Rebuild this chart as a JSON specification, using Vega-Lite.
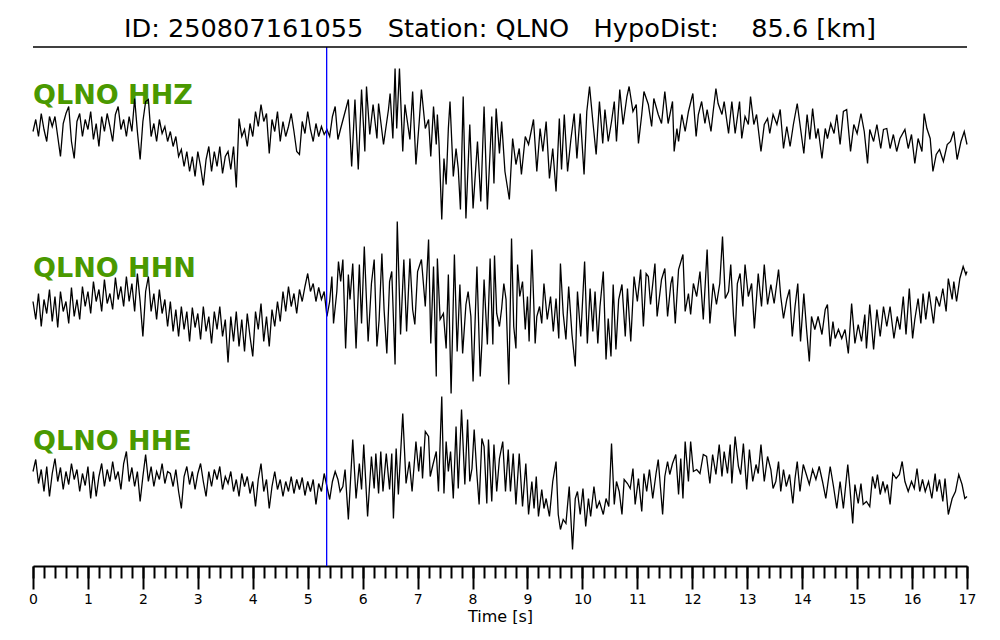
{
"$schema": "https://vega.github.io/schema/vega-lite/v6.json",
"padding": {"left": 28, "top": 16, "right": 0, "bottom": 0},
"background": "white",
"config": {"view": {"stroke": null}, "font": "DejaVu Sans"},
"title": {"text": "ID: 250807161055\u00a0\u00a0 Station: QLNO\u00a0\u00a0 HypoDist:\u00a0\u00a0\u00a0 85.6 [km]", "fontSize": 25.6, "font": "DejaVu Sans", "fontWeight": "normal", "color": "black", "anchor": "middle", "frame": "group", "baseline": "alphabetic", "offset": -16},
"spacing": 0,
"bounds": "flush",
"datasets": {
"z": [{"t":0,"v":2},{"t":0.05,"v":14},{"t":0.1,"v":-3},{"t":0.15,"v":20},{"t":0.2,"v":4},{"t":0.25,"v":-8},{"t":0.3,"v":17},{"t":0.35,"v":7},{"t":0.4,"v":17},{"t":0.45,"v":-3},{"t":0.5,"v":-23},{"t":0.55,"v":10},{"t":0.6,"v":20},{"t":0.65,"v":27},{"t":0.7,"v":-8},{"t":0.75,"v":-25},{"t":0.8,"v":12},{"t":0.85,"v":20},{"t":0.9,"v":-3},{"t":0.95,"v":14},{"t":1,"v":4},{"t":1.05,"v":22},{"t":1.1,"v":-6},{"t":1.15,"v":10},{"t":1.2,"v":-13},{"t":1.25,"v":17},{"t":1.3,"v":2},{"t":1.35,"v":20},{"t":1.4,"v":7},{"t":1.45,"v":-8},{"t":1.5,"v":19},{"t":1.55,"v":27},{"t":1.6,"v":4},{"t":1.65,"v":14},{"t":1.7,"v":-3},{"t":1.75,"v":17},{"t":1.8,"v":2},{"t":1.85,"v":35},{"t":1.9,"v":2},{"t":1.95,"v":-26},{"t":2,"v":12},{"t":2.05,"v":32},{"t":2.1,"v":34},{"t":2.15,"v":-3},{"t":2.2,"v":10},{"t":2.25,"v":-8},{"t":2.3,"v":14},{"t":2.35,"v":0},{"t":2.4,"v":7},{"t":2.45,"v":-8},{"t":2.5,"v":2},{"t":2.55,"v":-13},{"t":2.6,"v":-3},{"t":2.65,"v":-23},{"t":2.7,"v":-16},{"t":2.75,"v":-33},{"t":2.8,"v":-18},{"t":2.85,"v":-38},{"t":2.9,"v":-23},{"t":2.95,"v":-43},{"t":3,"v":-18},{"t":3.05,"v":-33},{"t":3.1,"v":-52},{"t":3.15,"v":-26},{"t":3.2,"v":-13},{"t":3.25,"v":-38},{"t":3.3,"v":-18},{"t":3.35,"v":-33},{"t":3.4,"v":-13},{"t":3.45,"v":-40},{"t":3.5,"v":-23},{"t":3.55,"v":-18},{"t":3.6,"v":-36},{"t":3.65,"v":-13},{"t":3.7,"v":-54},{"t":3.75,"v":15},{"t":3.8,"v":-3},{"t":3.85,"v":4},{"t":3.9,"v":-13},{"t":3.95,"v":10},{"t":4,"v":-3},{"t":4.05,"v":22},{"t":4.1,"v":7},{"t":4.15,"v":29},{"t":4.2,"v":12},{"t":4.25,"v":20},{"t":4.3,"v":-20},{"t":4.35,"v":14},{"t":4.4,"v":2},{"t":4.45,"v":22},{"t":4.5,"v":-8},{"t":4.55,"v":12},{"t":4.6,"v":-3},{"t":4.65,"v":7},{"t":4.7,"v":20},{"t":4.75,"v":2},{"t":4.8,"v":-18},{"t":4.85,"v":-21},{"t":4.9,"v":12},{"t":4.95,"v":0},{"t":5,"v":22},{"t":5.05,"v":4},{"t":5.1,"v":-8},{"t":5.15,"v":10},{"t":5.2,"v":-3},{"t":5.25,"v":7},{"t":5.3,"v":-1},{"t":5.35,"v":4},{"t":5.4,"v":-3},{"t":5.45,"v":17},{"t":5.5,"v":27},{"t":5.55,"v":-6},{"t":5.6,"v":5},{"t":5.74,"v":34},{"t":5.8,"v":-33},{"t":5.86,"v":34},{"t":5.92,"v":-36},{"t":5.98,"v":44},{"t":6.04,"v":-18},{"t":6.07,"v":47},{"t":6.13,"v":-1},{"t":6.19,"v":29},{"t":6.26,"v":-5},{"t":6.29,"v":30},{"t":6.38,"v":-11},{"t":6.47,"v":24},{"t":6.5,"v":40},{"t":6.55,"v":-5},{"t":6.59,"v":65},{"t":6.62,"v":5},{"t":6.67,"v":65},{"t":6.73,"v":-18},{"t":6.77,"v":29},{"t":6.86,"v":-6},{"t":6.91,"v":42},{"t":6.97,"v":-31},{"t":7.03,"v":12},{"t":7.07,"v":44},{"t":7.14,"v":5},{"t":7.2,"v":14},{"t":7.24,"v":-23},{"t":7.29,"v":27},{"t":7.34,"v":-11},{"t":7.36,"v":19},{"t":7.39,"v":-10},{"t":7.44,"v":-86},{"t":7.48,"v":-25},{"t":7.52,"v":-51},{"t":7.56,"v":5},{"t":7.59,"v":32},{"t":7.65,"v":-43},{"t":7.7,"v":-15},{"t":7.74,"v":-35},{"t":7.78,"v":-76},{"t":7.83,"v":37},{"t":7.88,"v":-85},{"t":7.95,"v":9},{"t":8.01,"v":-75},{"t":8.09,"v":-8},{"t":8.15,"v":-68},{"t":8.21,"v":27},{"t":8.27,"v":-76},{"t":8.35,"v":17},{"t":8.39,"v":-50},{"t":8.43,"v":25},{"t":8.49,"v":-20},{"t":8.53,"v":12},{"t":8.59,"v":-38},{"t":8.67,"v":-66},{"t":8.73,"v":-5},{"t":8.79,"v":-31},{"t":8.85,"v":-15},{"t":8.89,"v":-41},{"t":8.96,"v":-3},{"t":9.02,"v":-11},{"t":9.11,"v":14},{"t":9.17,"v":-38},{"t":9.23,"v":5},{"t":9.28,"v":-18},{"t":9.34,"v":12},{"t":9.4,"v":-45},{"t":9.46,"v":-15},{"t":9.52,"v":-58},{"t":9.58,"v":15},{"t":9.62,"v":-36},{"t":9.67,"v":19},{"t":9.73,"v":-38},{"t":9.79,"v":-6},{"t":9.85,"v":20},{"t":9.9,"v":-25},{"t":9.96,"v":20},{"t":10.03,"v":-41},{"t":10.08,"v":22},{"t":10.13,"v":47},{"t":10.19,"v":12},{"t":10.25,"v":-21},{"t":10.31,"v":32},{"t":10.37,"v":-10},{"t":10.41,"v":24},{"t":10.47,"v":-8},{"t":10.53,"v":12},{"t":10.58,"v":32},{"t":10.62,"v":-8},{"t":10.68,"v":44},{"t":10.74,"v":9},{"t":10.81,"v":37},{"t":10.85,"v":47},{"t":10.92,"v":22},{"t":10.98,"v":29},{"t":11.02,"v":-10},{"t":11.08,"v":19},{"t":11.12,"v":42},{"t":11.2,"v":29},{"t":11.26,"v":7},{"t":11.3,"v":35},{"t":11.38,"v":19},{"t":11.44,"v":10},{"t":11.5,"v":42},{"t":11.56,"v":10},{"t":11.64,"v":32},{"t":11.67,"v":-18},{"t":11.72,"v":5},{"t":11.75,"v":-8},{"t":11.81,"v":19},{"t":11.87,"v":2},{"t":11.93,"v":22},{"t":12.01,"v":40},{"t":12.07,"v":-3},{"t":12.11,"v":19},{"t":12.17,"v":32},{"t":12.23,"v":10},{"t":12.27,"v":24},{"t":12.34,"v":2},{"t":12.38,"v":22},{"t":12.43,"v":45},{"t":12.47,"v":30},{"t":12.54,"v":19},{"t":12.58,"v":32},{"t":12.66,"v":0},{"t":12.72,"v":32},{"t":12.78,"v":0},{"t":12.86,"v":32},{"t":12.9,"v":-5},{"t":12.96,"v":17},{"t":13.02,"v":9},{"t":13.06,"v":37},{"t":13.12,"v":9},{"t":13.17,"v":19},{"t":13.25,"v":-18},{"t":13.31,"v":9},{"t":13.37,"v":15},{"t":13.41,"v":0},{"t":13.47,"v":19},{"t":13.54,"v":9},{"t":13.6,"v":24},{"t":13.66,"v":-15},{"t":13.72,"v":7},{"t":13.78,"v":-13},{"t":13.84,"v":9},{"t":13.91,"v":30},{"t":13.97,"v":5},{"t":14.03,"v":-20},{"t":14.09,"v":19},{"t":14.14,"v":-6},{"t":14.19,"v":25},{"t":14.25,"v":-5},{"t":14.29,"v":5},{"t":14.36,"v":-25},{"t":14.42,"v":5},{"t":14.46,"v":-5},{"t":14.52,"v":10},{"t":14.58,"v":0},{"t":14.63,"v":19},{"t":14.69,"v":-11},{"t":14.75,"v":22},{"t":14.81,"v":24},{"t":14.88,"v":-18},{"t":14.94,"v":9},{"t":15,"v":0},{"t":15.07,"v":20},{"t":15.13,"v":2},{"t":15.19,"v":-30},{"t":15.23,"v":4},{"t":15.3,"v":-8},{"t":15.36,"v":9},{"t":15.43,"v":-15},{"t":15.48,"v":4},{"t":15.54,"v":5},{"t":15.6,"v":-15},{"t":15.66,"v":-1},{"t":15.72,"v":-18},{"t":15.78,"v":-5},{"t":15.87,"v":4},{"t":15.93,"v":-15},{"t":15.99,"v":-1},{"t":16.05,"v":-30},{"t":16.11,"v":-5},{"t":16.18,"v":-18},{"t":16.22,"v":20},{"t":16.27,"v":5},{"t":16.33,"v":-5},{"t":16.38,"v":-38},{"t":16.44,"v":-21},{"t":16.5,"v":-16},{"t":16.57,"v":-28},{"t":16.64,"v":-11},{"t":16.7,"v":-8},{"t":16.76,"v":2},{"t":16.82,"v":-26},{"t":16.89,"v":-8},{"t":16.95,"v":2},{"t":17,"v":-11}],
"n": [{"t":0,"v":5},{"t":0.05,"v":-13},{"t":0.1,"v":13},{"t":0.15,"v":-20},{"t":0.2,"v":7},{"t":0.25,"v":-7},{"t":0.3,"v":17},{"t":0.35,"v":-15},{"t":0.4,"v":10},{"t":0.45,"v":-21},{"t":0.5,"v":15},{"t":0.55,"v":-5},{"t":0.6,"v":5},{"t":0.65,"v":-17},{"t":0.7,"v":19},{"t":0.75,"v":-10},{"t":0.8,"v":7},{"t":0.85,"v":-13},{"t":0.9,"v":20},{"t":0.95,"v":0},{"t":1,"v":15},{"t":1.05,"v":-7},{"t":1.1,"v":25},{"t":1.15,"v":5},{"t":1.2,"v":17},{"t":1.25,"v":-5},{"t":1.3,"v":27},{"t":1.35,"v":3},{"t":1.4,"v":13},{"t":1.45,"v":-3},{"t":1.5,"v":29},{"t":1.55,"v":7},{"t":1.6,"v":20},{"t":1.65,"v":0},{"t":1.7,"v":30},{"t":1.75,"v":5},{"t":1.8,"v":23},{"t":1.85,"v":-5},{"t":1.9,"v":33},{"t":1.95,"v":5},{"t":2,"v":-30},{"t":2.05,"v":15},{"t":2.1,"v":30},{"t":2.15,"v":-5},{"t":2.2,"v":13},{"t":2.25,"v":-13},{"t":2.3,"v":17},{"t":2.35,"v":-7},{"t":2.4,"v":7},{"t":2.45,"v":-20},{"t":2.5,"v":5},{"t":2.55,"v":-25},{"t":2.6,"v":-3},{"t":2.65,"v":-30},{"t":2.7,"v":0},{"t":2.75,"v":-23},{"t":2.8,"v":-5},{"t":2.85,"v":-35},{"t":2.9,"v":-1},{"t":2.95,"v":-21},{"t":3,"v":-7},{"t":3.05,"v":-33},{"t":3.1,"v":0},{"t":3.15,"v":-25},{"t":3.2,"v":-10},{"t":3.25,"v":-37},{"t":3.3,"v":-5},{"t":3.35,"v":-23},{"t":3.4,"v":0},{"t":3.45,"v":-30},{"t":3.5,"v":-13},{"t":3.55,"v":-56},{"t":3.6,"v":-10},{"t":3.65,"v":-35},{"t":3.7,"v":-5},{"t":3.75,"v":-40},{"t":3.8,"v":-13},{"t":3.85,"v":-45},{"t":3.9,"v":-7},{"t":3.95,"v":-30},{"t":4,"v":-50},{"t":4.05,"v":-5},{"t":4.1,"v":-23},{"t":4.15,"v":3},{"t":4.2,"v":-35},{"t":4.25,"v":-10},{"t":4.3,"v":-40},{"t":4.35,"v":-3},{"t":4.4,"v":-20},{"t":4.45,"v":5},{"t":4.5,"v":-15},{"t":4.55,"v":15},{"t":4.6,"v":-5},{"t":4.65,"v":20},{"t":4.7,"v":0},{"t":4.75,"v":13},{"t":4.8,"v":-7},{"t":4.85,"v":17},{"t":4.9,"v":5},{"t":4.95,"v":20},{"t":5,"v":33},{"t":5.05,"v":15},{"t":5.1,"v":23},{"t":5.15,"v":5},{"t":5.2,"v":19},{"t":5.25,"v":7},{"t":5.3,"v":15},{"t":5.35,"v":-10},{"t":5.4,"v":5},{"t":5.44,"v":30},{"t":5.47,"v":-17},{"t":5.53,"v":15},{"t":5.56,"v":45},{"t":5.6,"v":25},{"t":5.64,"v":47},{"t":5.69,"v":-42},{"t":5.74,"v":32},{"t":5.77,"v":7},{"t":5.82,"v":43},{"t":5.88,"v":-42},{"t":5.94,"v":42},{"t":5.98,"v":-17},{"t":6.03,"v":60},{"t":6.1,"v":-35},{"t":6.16,"v":23},{"t":6.21,"v":47},{"t":6.26,"v":-40},{"t":6.3,"v":-13},{"t":6.35,"v":53},{"t":6.39,"v":-3},{"t":6.44,"v":-47},{"t":6.49,"v":25},{"t":6.53,"v":35},{"t":6.59,"v":-58},{"t":6.63,"v":85},{"t":6.69,"v":-28},{"t":6.75,"v":47},{"t":6.8,"v":-25},{"t":6.86,"v":48},{"t":6.91,"v":-3},{"t":6.95,"v":-18},{"t":7,"v":35},{"t":7.07,"v":47},{"t":7.14,"v":0},{"t":7.2,"v":67},{"t":7.24,"v":-37},{"t":7.29,"v":40},{"t":7.34,"v":-70},{"t":7.36,"v":48},{"t":7.41,"v":-13},{"t":7.47,"v":-7},{"t":7.52,"v":-42},{"t":7.56,"v":32},{"t":7.61,"v":-87},{"t":7.67,"v":52},{"t":7.72,"v":-45},{"t":7.77,"v":22},{"t":7.82,"v":-47},{"t":7.88,"v":2},{"t":7.92,"v":15},{"t":7.97,"v":-10},{"t":8.01,"v":-75},{"t":8.08,"v":40},{"t":8.14,"v":-70},{"t":8.17,"v":-37},{"t":8.21,"v":27},{"t":8.27,"v":-38},{"t":8.32,"v":48},{"t":8.37,"v":-38},{"t":8.4,"v":51},{"t":8.44,"v":-7},{"t":8.49,"v":-20},{"t":8.53,"v":-2},{"t":8.57,"v":23},{"t":8.61,"v":7},{"t":8.66,"v":-78},{"t":8.71,"v":68},{"t":8.75,"v":-20},{"t":8.79,"v":-42},{"t":8.82,"v":42},{"t":8.86,"v":10},{"t":8.91,"v":25},{"t":8.96,"v":-23},{"t":9,"v":10},{"t":9.03,"v":-35},{"t":9.08,"v":57},{"t":9.14,"v":-37},{"t":9.17,"v":-10},{"t":9.22,"v":0},{"t":9.26,"v":-17},{"t":9.3,"v":23},{"t":9.36,"v":-13},{"t":9.42,"v":10},{"t":9.47,"v":-25},{"t":9.52,"v":8},{"t":9.57,"v":-32},{"t":9.6,"v":43},{"t":9.65,"v":-7},{"t":9.7,"v":-33},{"t":9.75,"v":20},{"t":9.81,"v":-28},{"t":9.87,"v":-60},{"t":9.91,"v":15},{"t":9.97,"v":-30},{"t":10.04,"v":45},{"t":10.09,"v":-37},{"t":10.14,"v":18},{"t":10.19,"v":-25},{"t":10.23,"v":15},{"t":10.28,"v":-37},{"t":10.32,"v":0},{"t":10.38,"v":35},{"t":10.43,"v":-53},{"t":10.47,"v":-12},{"t":10.52,"v":-50},{"t":10.56,"v":22},{"t":10.61,"v":-43},{"t":10.66,"v":7},{"t":10.72,"v":22},{"t":10.78,"v":-30},{"t":10.82,"v":18},{"t":10.88,"v":-35},{"t":10.94,"v":30},{"t":11,"v":5},{"t":11.06,"v":37},{"t":11.11,"v":-20},{"t":11.16,"v":33},{"t":11.2,"v":30},{"t":11.24,"v":2},{"t":11.32,"v":43},{"t":11.36,"v":-10},{"t":11.44,"v":27},{"t":11.5,"v":38},{"t":11.55,"v":-10},{"t":11.61,"v":23},{"t":11.64,"v":30},{"t":11.69,"v":-17},{"t":11.75,"v":37},{"t":11.83,"v":52},{"t":11.87,"v":-5},{"t":11.93,"v":13},{"t":11.97,"v":-8},{"t":12.02,"v":23},{"t":12.08,"v":10},{"t":12.14,"v":35},{"t":12.2,"v":-13},{"t":12.27,"v":57},{"t":12.32,"v":-17},{"t":12.38,"v":23},{"t":12.44,"v":2},{"t":12.5,"v":23},{"t":12.55,"v":70},{"t":12.6,"v":8},{"t":12.66,"v":15},{"t":12.7,"v":42},{"t":12.75,"v":-10},{"t":12.78,"v":-30},{"t":12.82,"v":23},{"t":12.87,"v":33},{"t":12.92,"v":0},{"t":12.96,"v":42},{"t":13.02,"v":10},{"t":13.08,"v":23},{"t":13.13,"v":-22},{"t":13.2,"v":33},{"t":13.26,"v":0},{"t":13.31,"v":42},{"t":13.37,"v":2},{"t":13.43,"v":22},{"t":13.49,"v":3},{"t":13.57,"v":37},{"t":13.61,"v":10},{"t":13.66,"v":-12},{"t":13.72,"v":7},{"t":13.77,"v":17},{"t":13.82,"v":-30},{"t":13.87,"v":0},{"t":13.92,"v":23},{"t":13.97,"v":-35},{"t":14.03,"v":13},{"t":14.08,"v":-23},{"t":14.13,"v":-55},{"t":14.17,"v":-10},{"t":14.23,"v":-23},{"t":14.29,"v":-10},{"t":14.36,"v":-28},{"t":14.42,"v":-3},{"t":14.46,"v":2},{"t":14.51,"v":-40},{"t":14.56,"v":-15},{"t":14.6,"v":-32},{"t":14.66,"v":-23},{"t":14.72,"v":-32},{"t":14.78,"v":-23},{"t":14.84,"v":-47},{"t":14.9,"v":3},{"t":14.96,"v":-37},{"t":15.02,"v":-18},{"t":15.08,"v":-35},{"t":15.14,"v":-8},{"t":15.17,"v":-42},{"t":15.23,"v":2},{"t":15.3,"v":-43},{"t":15.36,"v":-3},{"t":15.42,"v":-30},{"t":15.48,"v":0},{"t":15.54,"v":-20},{"t":15.6,"v":0},{"t":15.67,"v":-32},{"t":15.73,"v":-10},{"t":15.78,"v":-23},{"t":15.84,"v":10},{"t":15.89,"v":-28},{"t":15.95,"v":18},{"t":16.01,"v":-32},{"t":16.05,"v":-13},{"t":16.11,"v":8},{"t":16.16,"v":-17},{"t":16.2,"v":13},{"t":16.25,"v":-13},{"t":16.31,"v":15},{"t":16.39,"v":-17},{"t":16.44,"v":10},{"t":16.5,"v":0},{"t":16.56,"v":18},{"t":16.62,"v":-5},{"t":16.66,"v":28},{"t":16.73,"v":7},{"t":16.76,"v":25},{"t":16.81,"v":5},{"t":16.87,"v":28},{"t":16.93,"v":40},{"t":16.98,"v":32},{"t":17,"v":35}],
"e": [{"t":0,"v":8},{"t":0.05,"v":20},{"t":0.1,"v":-4},{"t":0.15,"v":10},{"t":0.2,"v":-12},{"t":0.25,"v":13},{"t":0.3,"v":-17},{"t":0.35,"v":6},{"t":0.4,"v":21},{"t":0.45,"v":-2},{"t":0.5,"v":12},{"t":0.55,"v":-10},{"t":0.6,"v":8},{"t":0.65,"v":-5},{"t":0.7,"v":16},{"t":0.75,"v":0},{"t":0.8,"v":10},{"t":0.85,"v":-12},{"t":0.9,"v":6},{"t":0.95,"v":-6},{"t":1,"v":13},{"t":1.05,"v":-19},{"t":1.1,"v":8},{"t":1.15,"v":-17},{"t":1.2,"v":3},{"t":1.25,"v":16},{"t":1.3,"v":-7},{"t":1.35,"v":10},{"t":1.4,"v":-2},{"t":1.45,"v":18},{"t":1.5,"v":0},{"t":1.55,"v":8},{"t":1.6,"v":-10},{"t":1.65,"v":16},{"t":1.7,"v":28},{"t":1.75,"v":-2},{"t":1.8,"v":12},{"t":1.85,"v":-7},{"t":1.9,"v":8},{"t":1.95,"v":-22},{"t":2,"v":3},{"t":2.05,"v":25},{"t":2.1,"v":-2},{"t":2.15,"v":13},{"t":2.2,"v":-7},{"t":2.25,"v":8},{"t":2.3,"v":0},{"t":2.35,"v":16},{"t":2.4,"v":-4},{"t":2.45,"v":8},{"t":2.5,"v":6},{"t":2.55,"v":-7},{"t":2.6,"v":10},{"t":2.65,"v":-12},{"t":2.7,"v":-29},{"t":2.75,"v":3},{"t":2.8,"v":13},{"t":2.85,"v":-5},{"t":2.9,"v":8},{"t":2.95,"v":-10},{"t":3,"v":6},{"t":3.05,"v":16},{"t":3.1,"v":-2},{"t":3.15,"v":-17},{"t":3.2,"v":8},{"t":3.25,"v":-7},{"t":3.3,"v":10},{"t":3.35,"v":0},{"t":3.4,"v":13},{"t":3.45,"v":-10},{"t":3.5,"v":3},{"t":3.55,"v":-4},{"t":3.6,"v":8},{"t":3.65,"v":-12},{"t":3.7,"v":0},{"t":3.75,"v":-17},{"t":3.8,"v":6},{"t":3.85,"v":-7},{"t":3.9,"v":3},{"t":3.95,"v":-14},{"t":4,"v":-2},{"t":4.05,"v":-27},{"t":4.1,"v":0},{"t":4.15,"v":16},{"t":4.2,"v":-12},{"t":4.25,"v":0},{"t":4.3,"v":-29},{"t":4.35,"v":-7},{"t":4.4,"v":8},{"t":4.45,"v":-10},{"t":4.5,"v":0},{"t":4.55,"v":-17},{"t":4.6,"v":-2},{"t":4.65,"v":-12},{"t":4.7,"v":3},{"t":4.75,"v":-14},{"t":4.8,"v":0},{"t":4.85,"v":-10},{"t":4.9,"v":2},{"t":4.95,"v":-16},{"t":5,"v":-2},{"t":5.05,"v":-12},{"t":5.1,"v":0},{"t":5.15,"v":-25},{"t":5.2,"v":-4},{"t":5.25,"v":-12},{"t":5.3,"v":6},{"t":5.35,"v":-7},{"t":5.4,"v":-20},{"t":5.45,"v":-2},{"t":5.5,"v":8},{"t":5.55,"v":0},{"t":5.59,"v":-12},{"t":5.64,"v":-7},{"t":5.68,"v":10},{"t":5.74,"v":-40},{"t":5.82,"v":40},{"t":5.88,"v":-19},{"t":5.94,"v":16},{"t":5.98,"v":-10},{"t":6.02,"v":35},{"t":6.09,"v":-37},{"t":6.16,"v":23},{"t":6.21,"v":-9},{"t":6.24,"v":26},{"t":6.29,"v":-14},{"t":6.33,"v":28},{"t":6.37,"v":-12},{"t":6.43,"v":26},{"t":6.49,"v":-10},{"t":6.53,"v":26},{"t":6.56,"v":-39},{"t":6.61,"v":31},{"t":6.65,"v":-15},{"t":6.69,"v":25},{"t":6.73,"v":66},{"t":6.79,"v":-4},{"t":6.85,"v":18},{"t":6.9,"v":-12},{"t":6.97,"v":38},{"t":7.02,"v":8},{"t":7.06,"v":33},{"t":7.09,"v":1},{"t":7.14,"v":48},{"t":7.2,"v":43},{"t":7.23,"v":3},{"t":7.28,"v":15},{"t":7.34,"v":28},{"t":7.38,"v":-12},{"t":7.44,"v":83},{"t":7.48,"v":-14},{"t":7.52,"v":38},{"t":7.56,"v":8},{"t":7.6,"v":28},{"t":7.65,"v":-19},{"t":7.7,"v":53},{"t":7.74,"v":-9},{"t":7.8,"v":70},{"t":7.86,"v":-5},{"t":7.91,"v":60},{"t":7.95,"v":-2},{"t":7.99,"v":11},{"t":8.03,"v":50},{"t":8.08,"v":5},{"t":8.12,"v":-25},{"t":8.17,"v":41},{"t":8.21,"v":33},{"t":8.26,"v":-24},{"t":8.29,"v":40},{"t":8.35,"v":-22},{"t":8.39,"v":35},{"t":8.44,"v":-12},{"t":8.49,"v":21},{"t":8.55,"v":38},{"t":8.6,"v":-12},{"t":8.65,"v":30},{"t":8.69,"v":-12},{"t":8.74,"v":26},{"t":8.79,"v":-25},{"t":8.85,"v":26},{"t":8.91,"v":-27},{"t":8.97,"v":16},{"t":9.02,"v":-35},{"t":9.08,"v":-2},{"t":9.12,"v":-29},{"t":9.16,"v":3},{"t":9.2,"v":-37},{"t":9.26,"v":-10},{"t":9.3,"v":-29},{"t":9.34,"v":-19},{"t":9.4,"v":-37},{"t":9.46,"v":-2},{"t":9.52,"v":18},{"t":9.56,"v":-35},{"t":9.6,"v":-50},{"t":9.65,"v":-40},{"t":9.7,"v":-44},{"t":9.76,"v":-7},{"t":9.82,"v":-70},{"t":9.87,"v":-19},{"t":9.91,"v":-12},{"t":9.96,"v":-35},{"t":10.01,"v":-9},{"t":10.06,"v":-47},{"t":10.11,"v":-19},{"t":10.15,"v":-37},{"t":10.21,"v":-7},{"t":10.26,"v":-29},{"t":10.31,"v":-22},{"t":10.38,"v":-35},{"t":10.43,"v":-19},{"t":10.48,"v":-27},{"t":10.53,"v":36},{"t":10.58,"v":-25},{"t":10.62,"v":-2},{"t":10.67,"v":-12},{"t":10.72,"v":-35},{"t":10.76,"v":0},{"t":10.82,"v":-4},{"t":10.87,"v":-9},{"t":10.92,"v":11},{"t":10.96,"v":-25},{"t":11.02,"v":1},{"t":11.08,"v":-32},{"t":11.12,"v":6},{"t":11.17,"v":-12},{"t":11.22,"v":10},{"t":11.28,"v":-19},{"t":11.34,"v":6},{"t":11.38,"v":20},{"t":11.46,"v":-35},{"t":11.5,"v":3},{"t":11.55,"v":18},{"t":11.59,"v":5},{"t":11.64,"v":16},{"t":11.7,"v":25},{"t":11.75,"v":-15},{"t":11.79,"v":21},{"t":11.83,"v":-19},{"t":11.87,"v":38},{"t":11.93,"v":-2},{"t":11.97,"v":38},{"t":12.02,"v":8},{"t":12.08,"v":10},{"t":12.14,"v":6},{"t":12.2,"v":25},{"t":12.26,"v":23},{"t":12.32,"v":-4},{"t":12.37,"v":25},{"t":12.43,"v":5},{"t":12.49,"v":35},{"t":12.54,"v":3},{"t":12.58,"v":28},{"t":12.64,"v":6},{"t":12.69,"v":35},{"t":12.72,"v":-4},{"t":12.78,"v":43},{"t":12.84,"v":13},{"t":12.88,"v":5},{"t":12.93,"v":36},{"t":12.99,"v":-10},{"t":13.04,"v":30},{"t":13.1,"v":-2},{"t":13.16,"v":15},{"t":13.2,"v":6},{"t":13.25,"v":35},{"t":13.31,"v":-2},{"t":13.37,"v":23},{"t":13.43,"v":10},{"t":13.47,"v":-9},{"t":13.52,"v":-2},{"t":13.57,"v":18},{"t":13.61,"v":-12},{"t":13.66,"v":10},{"t":13.71,"v":-7},{"t":13.77,"v":5},{"t":13.83,"v":-24},{"t":13.87,"v":1},{"t":13.91,"v":18},{"t":13.96,"v":-12},{"t":14.02,"v":15},{"t":14.07,"v":6},{"t":14.13,"v":-5},{"t":14.19,"v":10},{"t":14.25,"v":0},{"t":14.31,"v":13},{"t":14.37,"v":-2},{"t":14.43,"v":-19},{"t":14.51,"v":13},{"t":14.57,"v":-7},{"t":14.63,"v":-29},{"t":14.69,"v":-2},{"t":14.75,"v":-29},{"t":14.83,"v":15},{"t":14.87,"v":-9},{"t":14.92,"v":-44},{"t":14.96,"v":-5},{"t":15.02,"v":-24},{"t":15.07,"v":-4},{"t":15.11,"v":-25},{"t":15.17,"v":-22},{"t":15.23,"v":-27},{"t":15.28,"v":3},{"t":15.33,"v":-9},{"t":15.37,"v":5},{"t":15.42,"v":-15},{"t":15.47,"v":-2},{"t":15.51,"v":-12},{"t":15.55,"v":-5},{"t":15.6,"v":-25},{"t":15.65,"v":6},{"t":15.71,"v":1},{"t":15.77,"v":5},{"t":15.82,"v":18},{"t":15.87,"v":-2},{"t":15.93,"v":-12},{"t":15.99,"v":-2},{"t":16.04,"v":-9},{"t":16.09,"v":11},{"t":16.14,"v":-12},{"t":16.19,"v":0},{"t":16.24,"v":-12},{"t":16.3,"v":-2},{"t":16.36,"v":-19},{"t":16.42,"v":6},{"t":16.45,"v":-12},{"t":16.5,"v":0},{"t":16.56,"v":-22},{"t":16.6,"v":1},{"t":16.66,"v":-35},{"t":16.73,"v":-19},{"t":16.79,"v":-12},{"t":16.85,"v":5},{"t":16.91,"v":-5},{"t":16.96,"v":-19},{"t":17,"v":-17}]
},
"vconcat": [
{"width": 934, "height": 173, "layer": [
 {"data": {"values": [{"label": "QLNO HHZ"}]}, "mark": {"type": "text", "align": "left", "baseline": "alphabetic", "fontSize": 27, "fontWeight": "bold", "font": "DejaVu Sans", "color": "#4a9900"}, "encoding": {"x": {"datum": 0, "type": "quantitative", "scale": {"domain": [0, 17], "nice": false, "zero": false}, "axis": null}, "y": {"datum": 29.5, "type": "quantitative", "scale": {"domain": [-86.5, 86.5], "nice": false, "zero": false}, "axis": null}, "text": {"field": "label"}}},
 {"data": {"name": "z"}, "mark": {"type": "line", "color": "black", "strokeWidth": 1.3}, "encoding": {"x": {"field": "t", "type": "quantitative", "axis": null}, "y": {"field": "v", "type": "quantitative", "axis": null}}},
 {"data": {"values": [{}]}, "mark": {"type": "rule", "color": "#0000ff", "strokeWidth": 1.3}, "encoding": {"x": {"datum": 5.345, "type": "quantitative", "axis": null}}},
 {"data": {"values": [{}]}, "mark": {"type": "rule", "color": "black", "strokeWidth": 1.3}, "encoding": {"y": {"datum": 86.5, "type": "quantitative", "axis": null}}}
]},
{"width": 934, "height": 173, "layer": [
 {"data": {"values": [{"label": "QLNO HHN"}]}, "mark": {"type": "text", "align": "left", "baseline": "alphabetic", "fontSize": 27, "fontWeight": "bold", "font": "DejaVu Sans", "color": "#4a9900"}, "encoding": {"x": {"datum": 0, "type": "quantitative", "scale": {"domain": [0, 17], "nice": false, "zero": false}, "axis": null}, "y": {"datum": 29.5, "type": "quantitative", "scale": {"domain": [-86.5, 86.5], "nice": false, "zero": false}, "axis": null}, "text": {"field": "label"}}},
 {"data": {"name": "n"}, "mark": {"type": "line", "color": "black", "strokeWidth": 1.3}, "encoding": {"x": {"field": "t", "type": "quantitative", "axis": null}, "y": {"field": "v", "type": "quantitative", "axis": null}}},
 {"data": {"values": [{}]}, "mark": {"type": "rule", "color": "#0000ff", "strokeWidth": 1.3}, "encoding": {"x": {"datum": 5.345, "type": "quantitative", "axis": null}}}
]},
{"width": 934, "height": 173, "resolve": {"axis": {"x": "independent"}}, "layer": [
 {"data": {"values": [{"label": "QLNO HHE"}]}, "mark": {"type": "text", "align": "left", "baseline": "alphabetic", "fontSize": 27, "fontWeight": "bold", "font": "DejaVu Sans", "color": "#4a9900"}, "encoding": {"x": {"datum": 0, "type": "quantitative", "scale": {"domain": [0, 17], "nice": false, "zero": false}, "axis": null}, "y": {"datum": 29.5, "type": "quantitative", "scale": {"domain": [-86.5, 86.5], "nice": false, "zero": false}, "axis": null}, "text": {"field": "label"}}},
 {"data": {"name": "e"}, "mark": {"type": "line", "color": "black", "strokeWidth": 1.3}, "encoding": {"x": {"field": "t", "type": "quantitative", "title": "Time [s]", "axis": {"orient": "bottom", "tickCount": 17, "format": "d", "grid": false, "domain": true, "domainColor": "black", "domainWidth": 2, "tickColor": "black", "tickWidth": 2, "tickSize": 23, "labelFontSize": 14, "labelColor": "black", "labelFont": "DejaVu Sans", "labelPadding": 3, "labelFlush": false, "labelOverlap": false, "titleFontSize": 16, "titleFont": "DejaVu Sans", "titleFontWeight": "normal", "titleColor": "black", "titlePadding": 2}}, "y": {"field": "v", "type": "quantitative", "axis": null}}},
 {"data": {"values": [{}]}, "mark": {"type": "rule", "color": "#0000ff", "strokeWidth": 1.3}, "encoding": {"x": {"datum": 5.345, "type": "quantitative", "title": null, "axis": {"orient": "bottom", "tickCount": 86, "labels": false, "domain": false, "grid": false, "title": null, "tickColor": "black", "tickWidth": 2, "tickSize": 12}}}}
]}
]
}
